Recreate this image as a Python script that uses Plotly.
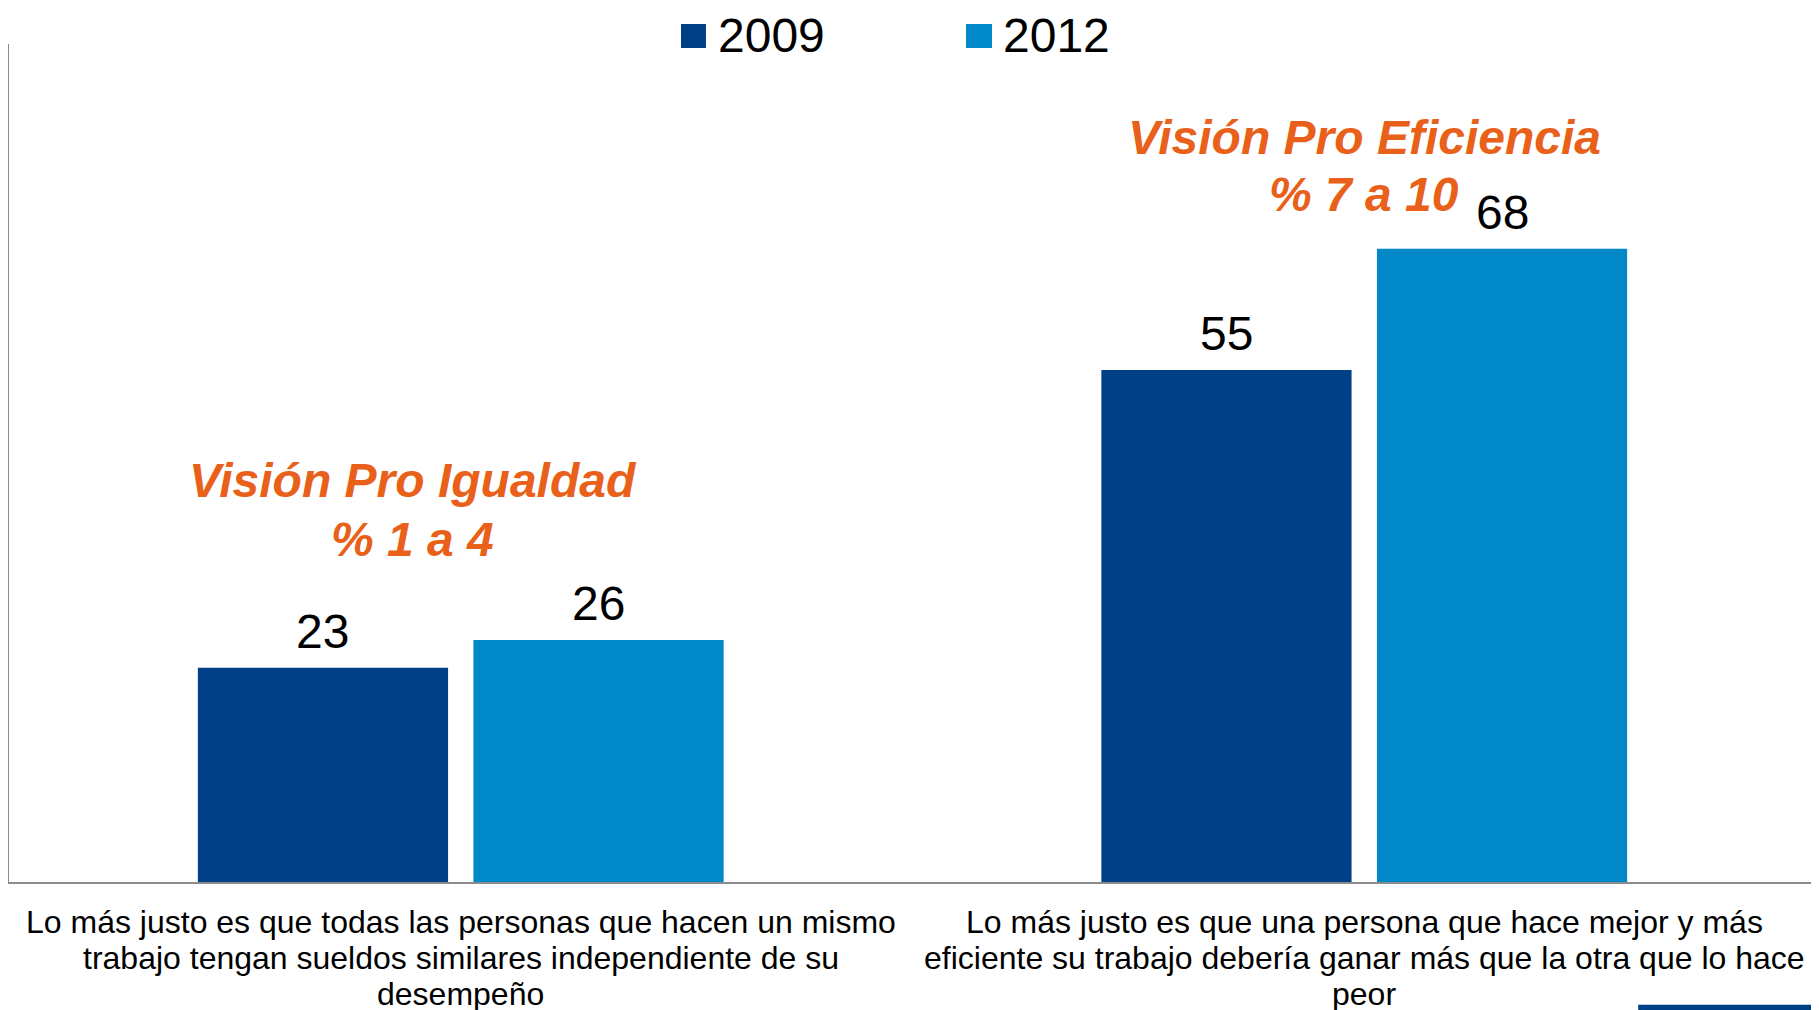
import plotly.graph_objects as go

categories = [
    "Lo más justo es que todas las personas que hacen un mismo<br>trabajo tengan sueldos similares independiente de su<br>desempeño",
    "Lo más justo es que una persona que hace mejor y más<br>eficiente su trabajo debería ganar más que la otra que lo hace<br>peor",
]
years = ["2009", "2012"]
vals_2009 = [23, 55]
vals_2012 = [26, 68]
note_title = ["Visión Pro Igualdad", "Visión Pro Eficiencia"]
note_range = ["% 1 a 4", "% 7 a 10"]
note_y1 = [43.1, 80.0]
note_y2 = [36.8, 73.8]

DARK = "rgb(0,64,135)"
LIGHT = "rgb(0,136,201)"
ORANGE = "rgb(232,96,26)"
FONT = "Liberation Sans, Arial, sans-serif"

fig = go.Figure()
series = [(years[0], vals_2009, DARK, -138), (years[1], vals_2012, LIGHT, 138)]
for name, vals, col, dx in series:
    fig.add_trace(go.Bar(
        x=categories, y=vals, name=name, showlegend=False,
        marker=dict(color=col, line=dict(width=0)),
    ))
    # value labels above bars
    for cat, v in zip(categories, vals):
        fig.add_annotation(x=cat, y=v, text=str(v), showarrow=False,
                           xshift=dx, yanchor="bottom", yshift=8,
                           font=dict(size=48, color="black", family=FONT))

# legend drawn by hand so the squares can be as big as in the original
leg_x = [(0.3719, 0.3857, 0.3913), (0.5296, 0.5440, 0.5490)]
for name, col, (sx0, sx1, tx) in zip(years, [DARK, LIGHT], leg_x):
    fig.add_shape(type="rect", xref="paper", yref="paper",
                  x0=sx0, x1=sx1, y0=0.9952, y1=1.0239,
                  fillcolor=col, line=dict(width=0))
    fig.add_annotation(xref="paper", yref="paper", x=tx, y=1.0107,
                       xanchor="left", yanchor="middle", text=name,
                       showarrow=False, font=dict(size=48, family=FONT))

# category labels, one line per annotation to get the tighter spacing
for cat in categories:
    for i, line in enumerate(cat.split("<br>")):
        fig.add_annotation(x=cat, y=0, yref="paper", text=line,
                           showarrow=False, yanchor="middle",
                           yshift=-(40 + 36 * i),
                           font=dict(size=32, family=FONT))

# orange headings above each group
for cat, t1, t2, y1, y2, dx in zip(categories, note_title, note_range,
                                   note_y1, note_y2, [-48, 0]):
    for txt, yv in [(t1, y1), (t2, y2)]:
        fig.add_annotation(
            x=cat, y=yv, text="<b><i>" + txt + "</i></b>",
            showarrow=False, xshift=dx, yanchor="middle",
            font=dict(size=48, color=ORANGE, family=FONT),
        )

# small decorative line in the bottom right corner
fig.add_shape(type="line", xref="paper", yref="paper",
              x0=0.9016, x1=1.0, y0=-0.150, y1=-0.150,
              line=dict(color=DARK, width=6))

fig.update_layout(
    width=1819, height=1010,
    margin=dict(l=1, r=11, t=36, b=136),
    paper_bgcolor="white", plot_bgcolor="white",
    barmode="group", bargap=0.39, bargroupgap=0.092,
    font=dict(family=FONT, color="black"),
    showlegend=False,
    xaxis=dict(
        showline=True, linecolor="#8c8c8c", linewidth=2, ticks="",
        showticklabels=False, showgrid=False,
    ),
    yaxis=dict(
        range=[0, 90], showline=True, linecolor="#8c8c8c", linewidth=1.5,
        showticklabels=False, showgrid=False, zeroline=False, ticks="",
    ),
)

fig.write_html("out.html")
